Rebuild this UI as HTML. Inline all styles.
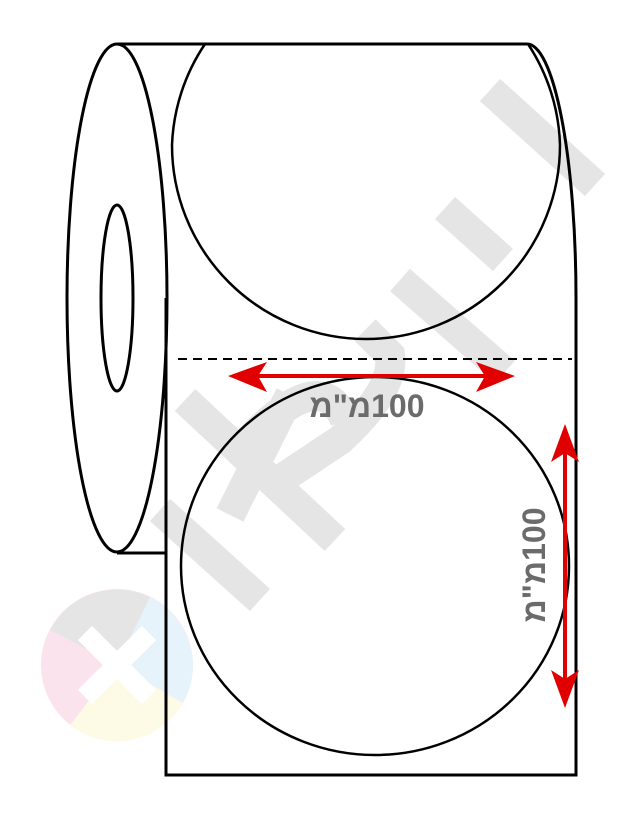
<!DOCTYPE html>
<html><head><meta charset="utf-8"><style>
html,body{margin:0;padding:0;background:#fff;width:643px;height:820px;overflow:hidden}
svg{display:block}
</style></head><body>
<svg width="643" height="820" viewBox="0 0 643 820" xmlns="http://www.w3.org/2000/svg">
<!-- watermark -->
<g>
<circle cx="117" cy="665" r="76" fill="#fbe3ee"/>
<path d="M117 665 L183 703 A76 76 0 0 1 70 725 Z" fill="#fdfbe6"/>
<path d="M117 665 L150 597 A76 76 0 0 1 183 703 Z" fill="#e6f3fa"/>
<path d="M117 665 L50 630 A76 76 0 0 1 150 597 Z" fill="#e5e5e5"/>
<path d="M85 633 L149 697 M149 633 L85 697" stroke="#fff" stroke-width="20"/>
<g stroke="#e5e5e5" stroke-width="30" fill="none">
<path d="M400 280 L505 372"/>
<path d="M445 208 L503 260"/>
<path d="M490 90 L595 185"/>
<path d="M280 480 L340 440 Q395 390 390 355 L365 330"/>
<path d="M240 450 Q320 360 345 420"/>
<path d="M290 395 L230 515"/>
<path d="M335 540 L185 400"/>
<path d="M260 600 L160 510"/>
</g>
</g>
<g fill="none" stroke="#000" stroke-width="3">
<ellipse cx="117" cy="298" rx="50" ry="254"/>
<ellipse cx="117" cy="298" rx="16" ry="93"/>
<path d="M117 44 L527 44 A49 254 0 0 1 576 298 L576 775 L166 775 L166 298"/>
<path d="M117 553 L166 553"/>
<path d="M560 145 A194 194 0 0 1 172 145 A194 194 0 0 1 205 44 M528 44 A194 194 0 0 1 560 145" stroke-width="2.5"/>
<ellipse cx="375" cy="566" rx="194" ry="189" stroke-width="2.5"/>
</g>
<line x1="178" y1="359" x2="572" y2="359" stroke="#000" stroke-width="2" stroke-dasharray="9,6"/>
<g fill="#e00000" stroke="#e00000">
<line x1="245" y1="376" x2="500" y2="376" stroke-width="4"/>
<path d="M228 376 L267 362 L258 376 L267 392 Z" stroke="none"/>
<path d="M515 376 L476 362 L485 376 L476 392 Z" stroke="none"/>
<line x1="565" y1="440" x2="565" y2="692" stroke-width="4"/>
<path d="M565 424 L551 462 L565 453 L579 462 Z" stroke="none"/>
<path d="M565 708 L551 670 L565 679 L579 670 Z" stroke="none"/>
</g>
<text x="367" y="417" direction="rtl" unicode-bidi="embed" text-anchor="middle" font-family="Liberation Sans, DejaVu Sans, sans-serif" font-weight="bold" font-size="32" fill="#6b6b6b">100מ"מ</text>
<text transform="translate(545,565) rotate(-90)" direction="rtl" unicode-bidi="embed" text-anchor="middle" font-family="Liberation Sans, DejaVu Sans, sans-serif" font-weight="bold" font-size="32" fill="#6b6b6b">100מ"מ</text>
</svg>
</body></html>
